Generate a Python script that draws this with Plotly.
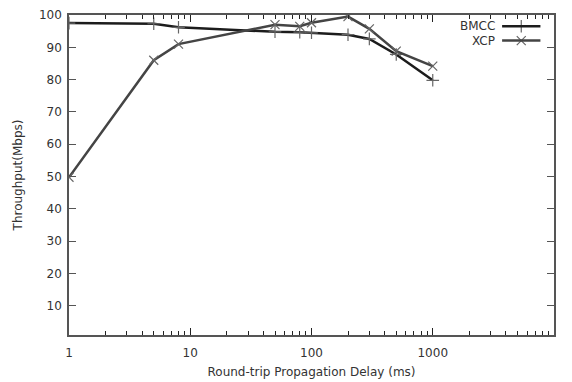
import plotly.graph_objects as go

delay_ms = [1, 5, 8, 50, 80, 100, 200, 300, 500, 1000]
bmcc = [97.5, 97.3, 96.2, 94.8, 94.7, 94.5, 93.9, 92.6, 87.8, 79.8]
xcp = [49.8, 86.0, 91.0, 97.0, 96.5, 97.6, 99.5, 95.7, 88.8, 84.2]

series_names = ["BMCC", "XCP"]
line_colors = ["#1c1c1c", "#444444"]
marker_symbols = ["cross-thin-open", "x-thin-open"]

x_tickvals = [1, 10, 100, 1000, 10000]
x_minor_vals = [m * 10 ** k for k in range(4) for m in range(2, 10)]
y_tickvals = [10, 20, 30, 40, 50, 60, 70, 80, 90, 100]

fig = go.Figure()
for name, ys, col, sym in zip(series_names, [bmcc, xcp], line_colors, marker_symbols):
    fig.add_trace(go.Scatter(
        x=delay_ms, y=ys, mode="lines+markers", name=name,
        line=dict(color=col, width=2.5),
        marker=dict(symbol=sym, size=9, line=dict(color="#666666", width=1.2), color="#666666"),
        showlegend=False,
    ))

# gnuplot-style legend (text then sample)
leg_y = [0.965, 0.92]
for i, (name, col, sym) in enumerate(zip(series_names, line_colors, marker_symbols)):
    fig.add_annotation(x=0.882, y=leg_y[i], xref="paper", yref="paper", text=name,
                       showarrow=False, xanchor="right", yanchor="middle",
                       font=dict(family="DejaVu Sans", size=12, color="#333333"))
    fig.add_shape(type="line", xref="paper", yref="paper", x0=0.893, x1=0.972,
                  y0=leg_y[i], y1=leg_y[i], line=dict(color=col, width=2.5))
    fig.add_trace(go.Scatter(x=[0.9325], y=[leg_y[i]], xaxis="x2", yaxis="y2", mode="markers",
                             marker=dict(symbol=sym, size=9, color="#666666",
                                         line=dict(color="#666666", width=1.2)),
                             showlegend=False, hoverinfo="skip"))

fig.update_layout(
    width=572, height=382,
    margin=dict(l=69, r=18, t=15, b=47),
    paper_bgcolor="white", plot_bgcolor="white",
    font=dict(family="DejaVu Sans", size=12, color="#333333"),
    xaxis=dict(type="log", range=[0, 4], tickvals=x_tickvals, ticktext=[str(v) for v in x_tickvals],
               ticks="inside", ticklen=7, tickcolor="#222222", showline=True, linecolor="#555555",
               linewidth=1.5, mirror="ticks", showgrid=False, zeroline=False,
               ticklabelstandoff=6, automargin=False,
               minor=dict(tickvals=x_minor_vals, ticks="inside", ticklen=4,
                          tickcolor="#222222", showgrid=False),
               title=dict(text="Round-trip Propagation Delay (ms)", standoff=8,
                          font=dict(size=12, color="#333333"))),
    yaxis=dict(range=[1, 100], tickvals=y_tickvals, ticks="inside", ticklen=7,
               tickcolor="#555555", showline=True, linecolor="#555555", linewidth=1.5,
               mirror="ticks", showgrid=False, zeroline=False, ticklabelstandoff=3,
               automargin=False,
               title=dict(text="Throughput(Mbps)", standoff=14, font=dict(size=12, color="#333333"))),
    xaxis2=dict(range=[0, 1], overlaying="x", visible=False, domain=[0, 1]),
    yaxis2=dict(range=[0, 1], overlaying="y", visible=False),
)

fig.write_html("out.html")
